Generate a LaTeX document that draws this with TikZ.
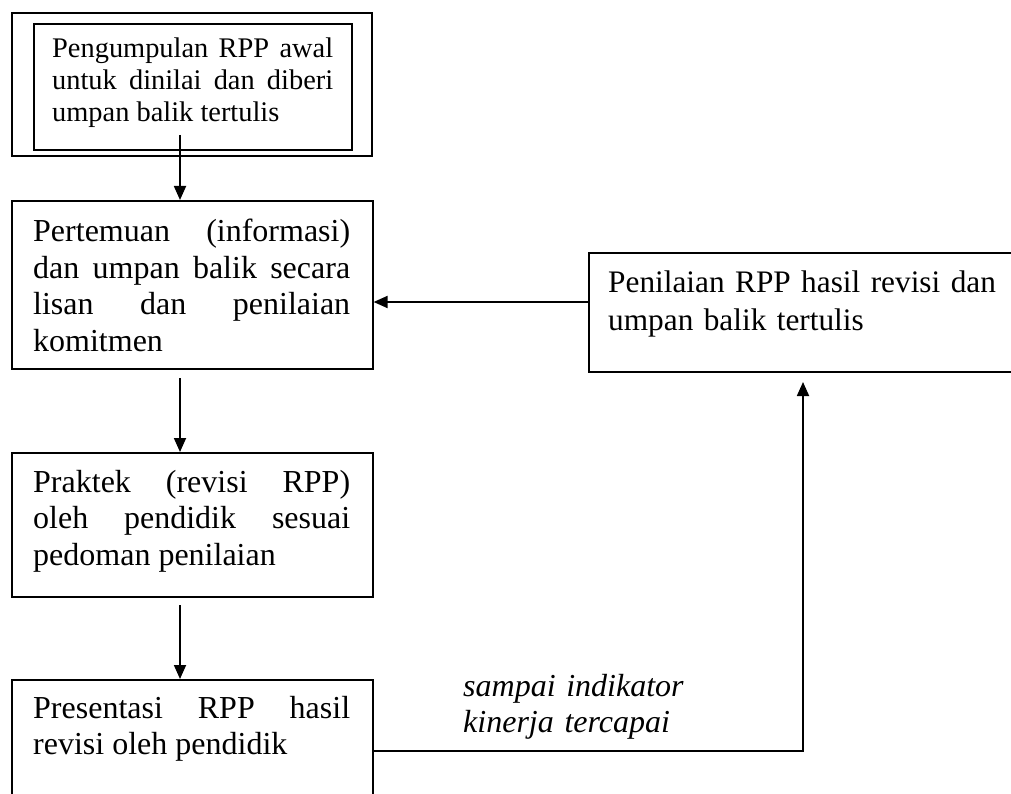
\documentclass[tikz,border=0pt]{standalone}
\usepackage{fontspec}
\setmainfont{Liberation Serif}
\usetikzlibrary{arrows.meta}
\newcommand\bigfs{\fontsize{32}{36.5}\selectfont\pretolerance=10000\tolerance=10000\hyphenpenalty=10000\emergencystretch=0pt}
\newcommand\midfs{\fontsize{31.3}{38}\selectfont}
\newcommand\smallfs{\fontsize{28.4}{32}\selectfont\pretolerance=10000\tolerance=10000\hyphenpenalty=10000\emergencystretch=0pt}
\begin{document}
\begin{tikzpicture}[x=1pt,y=-1pt,
  box/.style={draw, line width=1.6pt, inner sep=0pt, anchor=north west},
  txt/.style={anchor=base west, inner sep=0pt, text width=317pt, align=justify, font=\bigfs},
  conn/.style={line width=1.8pt, -{Triangle[length=14pt,width=12pt]}}]
\useasboundingbox (0,0) rectangle (1011,794);
\clip (0,0) rectangle (1011,794);
% top double box
\node[box, minimum width=360pt, minimum height=143pt] (A0) at (11,12) {};
\node[box, minimum width=318pt, minimum height=126pt] (A) at (33,23) {};
\node[txt, text width=281pt, font=\smallfs] (tA) at (52,58) {Pengumpulan RPP awal\linebreak untuk dinilai dan diberi\linebreak umpan balik tertulis};
% box B
\node[box, minimum width=361pt, minimum height=168pt] (B) at (11,200) {};
\node[txt] (tB) at (33,242) {Pertemuan (informasi)\linebreak dan umpan balik secara\linebreak lisan dan penilaian\linebreak komitmen};
% box C
\node[box, minimum width=361pt, minimum height=144pt] (C) at (11,452) {};
\node[txt] (tC) at (33,492) {Praktek (revisi RPP)\linebreak oleh pendidik sesuai\linebreak pedoman penilaian};
% box D
\node[box, minimum width=361pt, minimum height=160pt] (D) at (11,679) {};
\node[txt] (tD) at (33,718) {Presentasi RPP hasil\linebreak revisi oleh pendidik};
% box E
\node[box, minimum width=450pt, minimum height=119pt] (E) at (588,252) {};
\node[txt, text width=400pt, align=left, font=\midfs] (tE) at (608,292) {Penilaian RPP hasil revisi dan\\umpan balik tertulis};
% label
\node[txt, text width=300pt, align=left, font=\bigfs\itshape] (lab) at (463,696) {sampai indikator\\kinerja tercapai};
% connectors
\coordinate (a1) at (180,135);
\coordinate (b1) at (180,378);
\coordinate (c1) at (180,605);
\coordinate (e1) at (588,302);
\coordinate (d1) at (372,751);
\coordinate (etip) at (803,382);
\draw[conn] (a1) -- (a1 |- B.north);
\draw[conn] (b1) -- (b1 |- C.north);
\draw[conn] (c1) -- (c1 |- D.north);
\draw[conn] (e1) -- (e1 -| B.east);
\draw[conn] (d1) -| (etip);
\end{tikzpicture}
\end{document}
